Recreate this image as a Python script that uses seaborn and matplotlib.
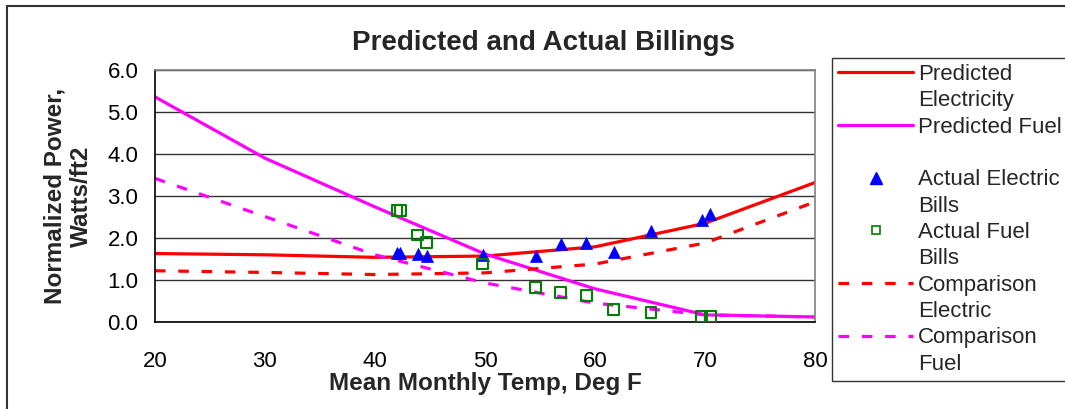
import numpy as np
import pandas as pd
import matplotlib
matplotlib.use("Agg")
import matplotlib.pyplot as plt
from matplotlib.lines import Line2D
import seaborn as sns

# Curvas previstas / comparacao
temp_grid = [20, 30, 40, 50, 60, 70, 80]
pred_elec = [1.63, 1.60, 1.54, 1.57, 1.79, 2.35, 3.32]
pred_fuel = [5.36, 3.90, 2.74, 1.62, 0.79, 0.17, 0.12]
comp_elec = [1.22, 1.18, 1.13, 1.17, 1.38, 1.88, 2.86]
comp_fuel = [3.42, 2.51, 1.60, 0.93, 0.45, 0.17, 0.12]

# Contas reais (mensais)
bill_temp = [42.0, 42.3, 43.9, 44.7, 49.8, 54.6, 56.9, 59.2, 61.7, 65.1, 69.7, 70.5]
elec_bills = [1.65, 1.65, 1.61, 1.57, 1.60, 1.56, 1.85, 1.89, 1.66, 2.17, 2.43, 2.57]
fuel_bills = [2.65, 2.65, 2.07, 1.89, 1.38, 0.83, 0.70, 0.64, 0.29, 0.23, 0.14, 0.14]

curves = pd.DataFrame({"temp": temp_grid, "pe": pred_elec, "pf": pred_fuel,
                       "ce": comp_elec, "cf": comp_fuel})
bills = pd.DataFrame({"temp": bill_temp, "elec": elec_bills, "fuel": fuel_bills})

sns.set_theme(style="white")
plt.rcParams["font.family"] = ["Liberation Sans", "DejaVu Sans"]

fig = plt.figure(figsize=(10.65, 4.09), dpi=100)
ax = fig.add_axes([0.1455, 0.2127, 0.6197, 0.6162])

red, mag = "#FF0000", "#FF00FF"
dash = (0, (3.3, 4.0))

sns.lineplot(data=curves, x="temp", y="pe", color=red, lw=2.3, ax=ax)
sns.lineplot(data=curves, x="temp", y="pf", color=mag, lw=2.3, ax=ax)
ax.plot(curves["temp"], curves["ce"], color=red, lw=2.3, linestyle=dash)
ax.plot(curves["temp"], curves["cf"], color=mag, lw=2.3, linestyle=dash)
sns.scatterplot(data=bills, x="temp", y="elec", marker="^", s=75, color="#0000FF",
                edgecolor="#0000FF", linewidth=0.5, ax=ax, zorder=5)
sns.scatterplot(data=bills, x="temp", y="fuel", marker="s", s=60, facecolor="none",
                edgecolor="#008000", linewidth=1.5, ax=ax, zorder=5)

ax.set_xlim(20, 80)
ax.set_ylim(0, 6)
ax.set_xticks(range(20, 81, 10))
ax.set_yticks(np.arange(0, 6.1, 1.0))
ax.set_yticklabels([f"{v:.1f}" for v in np.arange(0, 6.1, 1.0)])
ax.tick_params(axis="x", direction="in", length=6, width=1, labelsize=16, pad=21, colors="black")
ax.tick_params(axis="y", direction="out", length=6, width=1, labelsize=16, pad=6, colors="black")
ax.yaxis.grid(True, color="#333333", lw=1)
ax.set_axisbelow(True)
for s in ["left", "bottom"]:
    ax.spines[s].set_color("black")
    ax.spines[s].set_linewidth(1.2)
for s in ["top", "right"]:
    ax.spines[s].set_color("#808080")
    ax.spines[s].set_linewidth(1.2)

ax.set_xlabel("Mean Monthly Temp, Deg F", fontsize=17.5, fontweight="bold", labelpad=0)
ax.set_ylabel("Normalized Power,\nWatts/ft2", fontsize=17.5, fontweight="bold", labelpad=10)
fig.text(0.51, 0.895, "Predicted and Actual Billings", ha="center", va="center",
         fontsize=20, fontweight="bold")

# legenda: uma linha de texto por entrada, marcador na primeira linha
blank = Line2D([], [], color="none")
handles = [
    Line2D([], [], color=red, lw=2.3), blank,
    Line2D([], [], color=mag, lw=2.3), blank,
    Line2D([], [], marker="^", color="#0000FF", ls="none", markersize=8), blank,
    Line2D([], [], marker="s", markerfacecolor="none", markeredgecolor="#008000",
           ls="none", markersize=6, markeredgewidth=1.2), blank,
    Line2D([], [], color=red, lw=2.3, linestyle=dash), blank,
    Line2D([], [], color=mag, lw=2.3, linestyle=dash), blank,
]
labels = ["Predicted", "Electricity", "Predicted Fuel", " ",
          "Actual Electric", "Bills", "Actual Fuel", "Bills",
          "Comparison", "Electric", "Comparison", "Fuel"]
leg = fig.legend(handles, labels, loc="upper left", bbox_to_anchor=(0.781, 0.858),
                 bbox_transform=fig.transFigure, borderaxespad=0, frameon=True,
                 fancybox=False, edgecolor="black", fontsize=16, handlelength=3.4,
                 handletextpad=0.22, labelspacing=0.24, borderpad=0.27)
leg.get_frame().set_linewidth(1.0)

# moldura externa (linhas superior e esquerda)
fig.add_artist(Line2D([7 / 1065, 7 / 1065], [0, 1 - 6 / 409], transform=fig.transFigure,
                      color="#333333", lw=1.5))
fig.add_artist(Line2D([7 / 1065, 1], [1 - 6 / 409, 1 - 6 / 409], transform=fig.transFigure,
                      color="#333333", lw=1.5))

fig.savefig("out.png", dpi=100)
